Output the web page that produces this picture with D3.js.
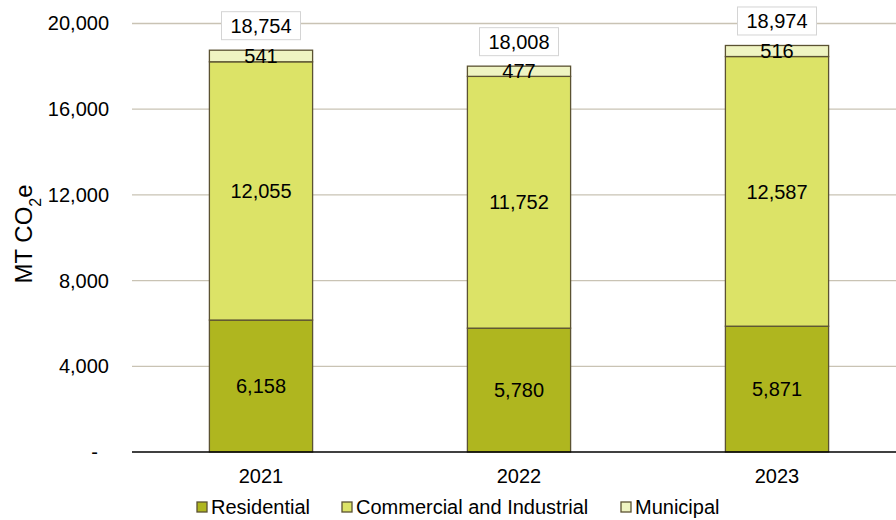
<!DOCTYPE html>
<html><head><meta charset="utf-8">
<script src="https://cdn.jsdelivr.net/npm/d3@7"></script>
<style>body{margin:0;background:#fff;} text{font-family:Arial,"Liberation Sans",sans-serif;}</style>
</head><body><svg id="c" width="896" height="520"></svg>
<script>
const years = ["2021","2022","2023"];
const residential = [6158, 5780, 5871];
const commercial = [12055, 11752, 12587];
const municipal = [541, 477, 516];
const totals = [18754, 18008, 18974];
const seriesNames = ["Residential","Commercial and Industrial","Municipal"];
const yTicks = [0, 4000, 8000, 12000, 16000, 20000];

const colors = ["#afb61f", "#dce367", "#eff4c2"];
const svg = d3.select("#c");
const m = {left:132, right:-10};
const W = 896;
const x = d3.scaleBand().domain(years).range([m.left, W - m.right]).paddingInner(0.6).paddingOuter(0.3);
const y = d3.scaleLinear().domain([0,20000]).range([452, 23.5]);
const fs = 20;

// gridlines
svg.append("g").selectAll("line").data(yTicks.filter(d=>d>0)).join("line")
  .attr("x1", m.left).attr("x2", W).attr("y1", d=>y(d)).attr("y2", d=>y(d))
  .attr("stroke","#c9c3b4").attr("stroke-width",1.3);

// y axis labels
const yAxis = d3.axisLeft(y).tickValues(yTicks).tickSize(0).tickPadding(0)
  .tickFormat(d => d===0 ? "-" : d3.format(",")(d));
const ga = svg.append("g").attr("transform",`translate(109,0)`).call(yAxis);
ga.select(".domain").remove();
ga.selectAll("text").attr("font-size",fs).attr("fill","#000").attr("font-family","Arial, Liberation Sans, sans-serif");
ga.selectAll(".tick").filter(d=>d===0).select("text").attr("dx",-11);

// stacks
const data = years.map((yr,i)=>({year:yr, Residential:residential[i], "Commercial and Industrial":commercial[i], Municipal:municipal[i]}));
const stack = d3.stack().keys(seriesNames)(data);
const groups = svg.append("g").selectAll("g").data(stack).join("g").attr("fill",(d,i)=>colors[i]);
groups.selectAll("rect").data(d=>d).join("rect")
  .attr("x", d=>x(d.data.year)).attr("width", x.bandwidth())
  .attr("y", d=>y(d[1])).attr("height", d=>y(d[0])-y(d[1]))
  .attr("stroke","#5b5232").attr("stroke-width",1.3);

// segment labels
stack.forEach((s)=>{
  svg.append("g").selectAll("text").data(s).join("text")
    .attr("x", d=>x(d.data.year)+x.bandwidth()/2)
    .attr("y", d=>(y(d[0])+y(d[1]))/2)
    .attr("dy","0.36em").attr("text-anchor","middle").attr("font-size",fs).attr("fill","#000")
    .text(d=>d3.format(",")(d[1]-d[0]));
});

// x axis
svg.append("line").attr("x1",m.left).attr("x2",W).attr("y1",452).attr("y2",452).attr("stroke","#000").attr("stroke-width",1.3);
svg.append("g").selectAll("text").data(years).join("text")
  .attr("x", d=>x(d)+x.bandwidth()/2).attr("y",475.5).attr("dy","0.36em").attr("text-anchor","middle").attr("font-size",fs).text(d=>d);

// totals
const tg = svg.append("g").selectAll("g").data(years).join("g")
  .attr("transform",(d,i)=>`translate(${x(d)+x.bandwidth()/2},${y(totals[i])-24.5})`);
tg.append("rect").attr("x",-39.5).attr("y",-14).attr("width",79).attr("height",28)
  .attr("fill","#fff").attr("stroke","#d4d4d4").attr("stroke-width",1);
tg.append("text").attr("text-anchor","middle").attr("dy","0.36em").attr("font-size",fs)
  .text((d,i)=>d3.format(",")(totals[i]));

// y title
svg.append("text").attr("transform","translate(32,234) rotate(-90)").attr("text-anchor","middle").attr("font-size",24)
  .html('MT CO<tspan baseline-shift="sub" font-size="16">2</tspan>e');

// legend
const legX = [197, 342, 621];
const lg = svg.append("g").selectAll("g").data(seriesNames).join("g").attr("transform",(d,i)=>`translate(${legX[i]},507)`);
lg.append("rect").attr("x",0).attr("y",-5).attr("width",10).attr("height",10).attr("fill",(d,i)=>colors[i]).attr("stroke","#5b5232").attr("stroke-width",1.3);
lg.append("text").attr("x",14).attr("dy","0.36em").attr("font-size",fs).text(d=>d);
</script></body></html>
